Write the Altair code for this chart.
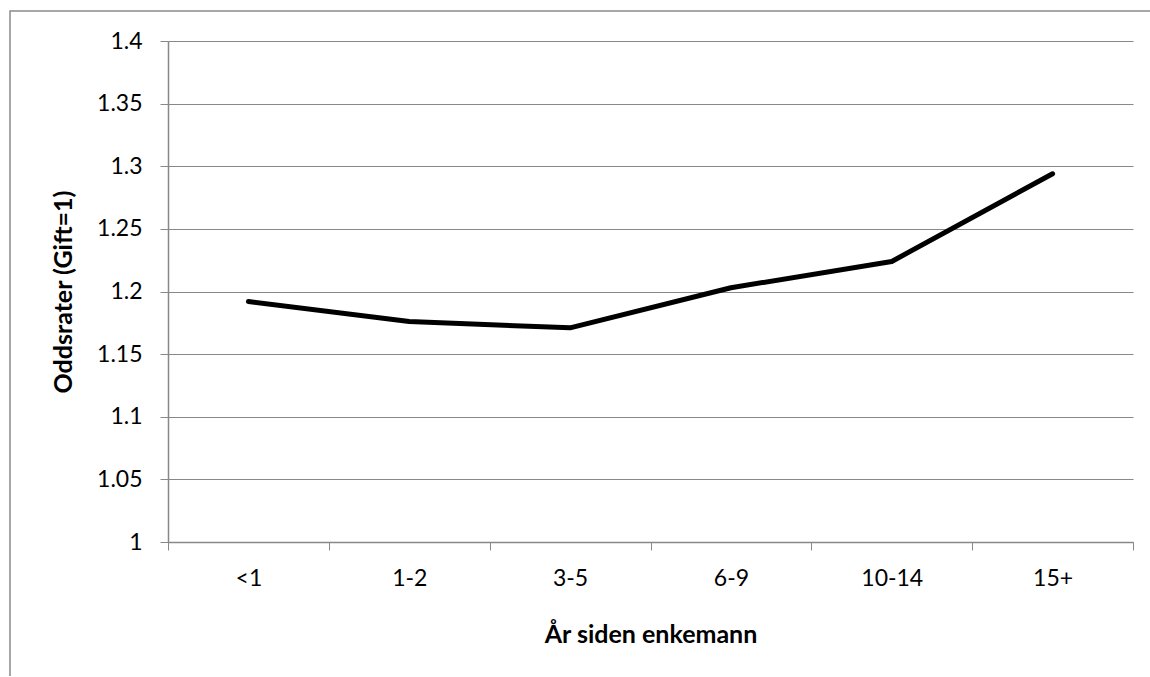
import altair as alt
import pandas as pd

# Years since becoming a widower, and the odds ratio against married (=1)
categories = ["<1", "1-2", "3-5", "6-9", "10-14", "15+"]
odds_ratio = [1.192, 1.176, 1.171, 1.203, 1.224, 1.294]
y_ticks = [1.0, 1.05, 1.1, 1.15, 1.2, 1.25, 1.3, 1.35, 1.4]

df = pd.DataFrame({"kategori": categories, "oddsrate": odds_ratio})

FONT = "Lato"
GRAY = "#888888"

line = alt.Chart(df).mark_line(color="black", strokeWidth=5, strokeCap="round", strokeJoin="round").encode(
    x=alt.X(
        "kategori:N",
        sort=categories,
        scale=alt.Scale(paddingInner=0, paddingOuter=0),
        axis=alt.Axis(
            title="År siden enkemann",
            labelAngle=0,
            tickBand="extent",
            tickSize=8,
            tickColor=GRAY,
            domainColor=GRAY,
            domainWidth=1.5,
            labelPadding=17,
            labelFontSize=23,
            labelFont=FONT,
            labelColor="black",
            titleFont=FONT,
            titleFontSize=25,
            titleFontWeight="bold",
            titleColor="black",
            titleBaseline="middle",
            titleY=92,
            grid=False,
        ),
    ),
    y=alt.Y(
        "oddsrate:Q",
        scale=alt.Scale(domain=[1, 1.4], nice=False, zero=False),
        axis=alt.Axis(
            title="Oddsrater (Gift=1)",
            values=y_ticks,
            format="~g",
            tickSize=8,
            tickColor=GRAY,
            domainColor=GRAY,
            domainWidth=1.5,
            gridColor=GRAY,
            gridWidth=1.2,
            labelPadding=18,
            labelFontSize=23,
            labelFont=FONT,
            labelColor="black",
            titleFont=FONT,
            titleFontSize=25,
            titleFontWeight="bold",
            titleColor="black",
            titleBaseline="middle",
            titleX=-105,
        ),
    ),
)

# Outer chart frame (left and top edges visible)
frame = alt.Chart(pd.DataFrame({"k": [0]})).mark_rect(
    fill=None, stroke="#8a8a8a", strokeWidth=1.5
).encode(
    x=alt.value(-158), x2=alt.value(1100),
    y=alt.value(-30), y2=alt.value(700),
)

chart = alt.layer(frame, line).properties(
    width=965,
    height=501,
    padding={"left": 168, "top": 41, "right": 17, "bottom": 134},
    autosize=alt.AutoSizeParams(type="none"),
    background="white",
).configure_view(stroke=None)

chart.save("out.html", embed_options={"renderer": "svg", "actions": False})
